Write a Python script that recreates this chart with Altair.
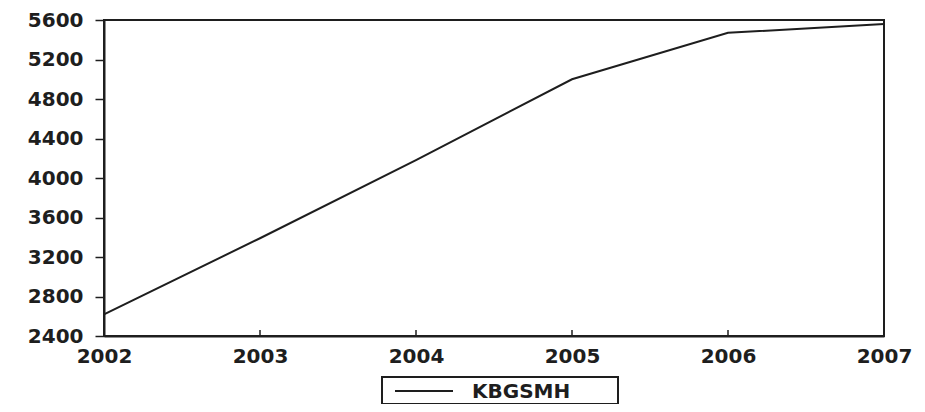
import altair as alt
import pandas as pd

years = [2002, 2003, 2004, 2005, 2006, 2007]
kbgsmh = [2620, 3390, 4180, 5000, 5470, 5560]
series_name = "KBGSMH"
y_ticks = [2400, 2800, 3200, 3600, 4000, 4400, 4800, 5200, 5600]

df = pd.DataFrame({"year": years, "value": kbgsmh})
legend_df = pd.DataFrame({"series": [series_name]})

W, H = 780, 316
FONT = "DejaVu Sans"
INK = "#1e1e1e"

base = alt.Chart(df)

line = base.mark_line(strokeWidth=2, color=INK).encode(
    x=alt.X("year:Q",
            scale=alt.Scale(domain=[2002, 2007], nice=False, zero=False),
            axis=alt.Axis(values=years, format="d", title=None, tickSize=0,
                          labelPadding=10, labelFont=FONT, labelFontSize=20,
                          labelFontWeight="bold",
                          labelColor=INK, domainColor=INK, domainWidth=2,
                          grid=False, labelFlush=False)),
    y=alt.Y("value:Q",
            scale=alt.Scale(domain=[2400, 5600], nice=False, zero=False),
            axis=alt.Axis(values=y_ticks, format="d", title=None, tickSize=9,
                          tickWidth=1.5, tickColor=INK, labelPadding=12,
                          labelFont=FONT, labelFontSize=20, labelFontWeight="bold",
                          labelColor=INK, domainColor=INK,
                          domainWidth=2, grid=False)),
)

ticks = base.mark_rule(color=INK, strokeWidth=1.5).encode(
    x="year:Q",
    y=alt.value(H - 6),
    y2=alt.value(H),
)

lg = alt.Chart(legend_df)
legend_box = lg.mark_rect(fill="white", stroke=INK, strokeWidth=2).encode(
    x=alt.value(278), x2=alt.value(514), y=alt.value(357), y2=alt.value(384)
)
legend_sym = lg.mark_rule(color=INK, strokeWidth=2).encode(
    x=alt.value(291), x2=alt.value(349), y=alt.value(371)
)
legend_txt = lg.mark_text(align="left", baseline="middle", font=FONT,
                          fontSize=20, fontWeight="bold", color=INK).encode(
    x=alt.value(368), y=alt.value(372), text="series:N"
)

chart = alt.layer(line, ticks, legend_box, legend_sym, legend_txt).properties(
    width=W, height=H,
    autosize=alt.AutoSizeParams(type="none"),
    padding={"left": 96, "top": 12, "right": 33, "bottom": 68},
).configure(background="white").configure_view(stroke=INK, strokeWidth=2)

chart.save("out.html", embed_options={"renderer": "svg", "actions": False})
